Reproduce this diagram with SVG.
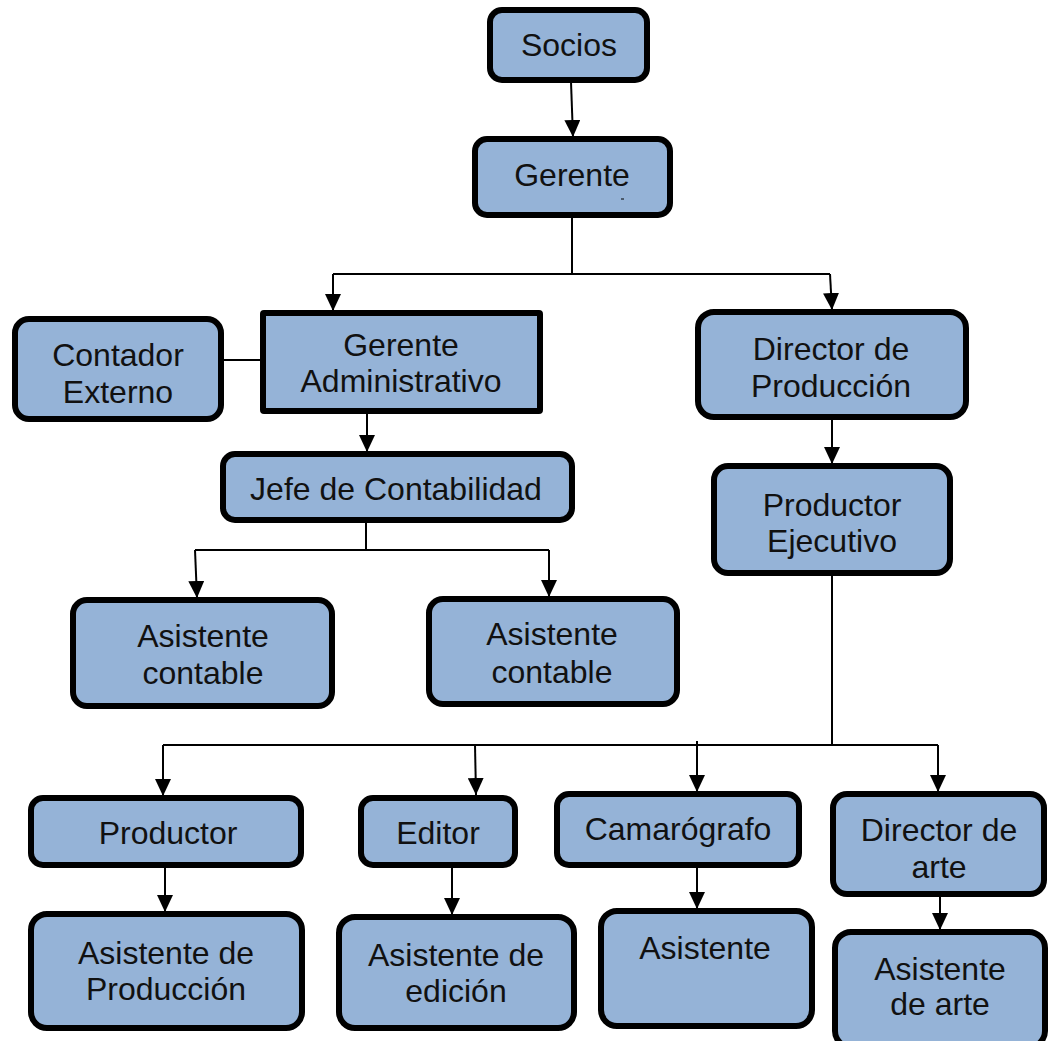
<svg xmlns="http://www.w3.org/2000/svg" width="1048" height="1041" viewBox="0 0 1048 1041">
<style>
.box{fill:#95b3d7;stroke:#000;stroke-width:6}
.t{font-family:"Liberation Sans",Arial,sans-serif;font-size:32px;fill:#111;text-anchor:middle}
.c{fill:none;stroke:#000;stroke-width:2}
.a{marker-end:url(#ah)}
</style>
<defs>
<marker id="ah" viewBox="0 0 17 16" refX="17" refY="8" markerWidth="17" markerHeight="16" markerUnits="userSpaceOnUse" orient="auto"><path d="M0 0 L17 8 L0 16 z" fill="#000"/></marker>
</defs>
<rect width="1048" height="1041" fill="#fff"/>
<g id="connectors">
<path class="c a" d="M571 82 L573 137"/>
<path class="c" d="M572 218 V274 M333 274 H830 M224 360 H261"/>
<path class="c a" d="M333 274 V311"/>
<path class="c a" d="M830 274 L832 310"/>
<path class="c a" d="M367 414 V452"/>
<path class="c" d="M366 523 V550 M195 550 H549"/>
<path class="c a" d="M195 550 L197 598"/>
<path class="c a" d="M549 550 V597"/>
<path class="c a" d="M832 420 V464"/>
<path class="c" d="M832 576 V745 M163 745 H938"/>
<path class="c a" d="M163 745 V796"/>
<path class="c a" d="M475 745 L476 795"/>
<path class="c a" d="M697 741 L697 792"/>
<path class="c a" d="M938 745 V792"/>
<path class="c a" d="M165 868 V912"/>
<path class="c a" d="M452 868 V915"/>
<path class="c a" d="M697 868 V909"/>
<path class="c a" d="M940 897 V930"/>
</g>
<g id="socios"><rect class="box" x="490" y="10" width="157" height="70" rx="12"/><text class="t" x="569" y="56">Socios</text></g>
<g id="gerente"><rect class="box" x="475" y="139" width="195" height="76" rx="12"/><text class="t" x="572" y="186">Gerente</text><line x1="621" y1="199" x2="624" y2="199" stroke="#000" stroke-width="1"/></g>
<g id="contador"><rect class="box" x="15" y="319" width="206" height="100" rx="14"/><text class="t" x="118" y="366">Contador</text><text class="t" x="118" y="403">Externo</text></g>
<g id="gerente-adm"><rect class="box" x="263" y="313" width="277" height="98" rx="1"/><text class="t" x="401" y="356">Gerente</text><text class="t" x="401" y="392">Administrativo</text></g>
<g id="jefe"><rect class="box" x="223" y="454" width="349" height="66" rx="12"/><text class="t" x="396" y="500">Jefe de Contabilidad</text></g>
<g id="asis-cont-1"><rect class="box" x="73" y="600" width="259" height="106" rx="14"/><text class="t" x="203" y="647">Asistente</text><text class="t" x="203" y="684">contable</text></g>
<g id="asis-cont-2"><rect class="box" x="429" y="599" width="248" height="105" rx="14"/><text class="t" x="552" y="645">Asistente</text><text class="t" x="552" y="683">contable</text></g>
<g id="dir-prod"><rect class="box" x="698" y="312" width="268" height="105" rx="16"/><text class="t" x="831" y="360">Director de</text><text class="t" x="831" y="397">Producción</text></g>
<g id="prod-ejec"><rect class="box" x="714" y="466" width="236" height="107" rx="14"/><text class="t" x="832" y="516">Productor</text><text class="t" x="832" y="552">Ejecutivo</text></g>
<g id="productor"><rect class="box" x="31" y="798" width="270" height="67" rx="12"/><text class="t" x="168" y="844">Productor</text></g>
<g id="editor"><rect class="box" x="361" y="798" width="154" height="67" rx="12"/><text class="t" x="438" y="844">Editor</text></g>
<g id="camarografo"><rect class="box" x="557" y="794" width="242" height="71" rx="12"/><text class="t" x="678" y="840">Camarógrafo</text></g>
<g id="dir-arte"><rect class="box" x="833" y="794" width="211" height="100" rx="14"/><text class="t" x="939" y="841">Director de</text><text class="t" x="939" y="878">arte</text></g>
<g id="asis-prod"><rect class="box" x="31" y="914" width="271" height="114" rx="16"/><text class="t" x="166" y="964">Asistente de</text><text class="t" x="166" y="1000">Producción</text></g>
<g id="asis-ed"><rect class="box" x="339" y="917" width="235" height="111" rx="16"/><text class="t" x="456" y="966">Asistente de</text><text class="t" x="456" y="1002">edición</text></g>
<g id="asistente"><rect class="box" x="601" y="911" width="211" height="115" rx="16"/><text class="t" x="705" y="959">Asistente</text></g>
<g id="asis-arte"><rect class="box" x="835" y="932" width="210" height="115" rx="16"/><text class="t" x="940" y="980">Asistente</text><text class="t" x="940" y="1015">de arte</text></g>
</svg>
